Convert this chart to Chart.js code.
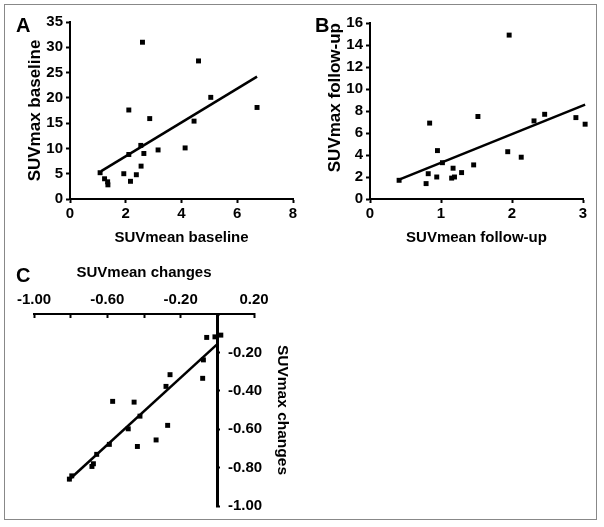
<!DOCTYPE html>
<html>
<head>
<meta charset="utf-8">
<script src="https://cdn.jsdelivr.net/npm/chart.js@4.4.1/dist/chart.umd.min.js"></script>
<style>
  body { margin: 0; background: #fff; width: 604px; height: 527px; overflow: hidden; position: relative; font-family: "Liberation Sans", Arial, sans-serif; }
  .frame { position: absolute; left: 4px; top: 4px; width: 591px; height: 514px; border: 1.5px solid #888; }
  .panel { position: absolute; }
  .letter { position: absolute; font-weight: bold; font-size: 20px; line-height: 20px; color: #000; }
</style>
</head>
<body>
<div class="frame"></div>
<canvas id="chartA" class="panel" width="300" height="252" style="left:0;top:0"></canvas>
<canvas id="chartB" class="panel" width="300" height="252" style="left:300px;top:0"></canvas>
<canvas id="chartC" class="panel" width="300" height="262" style="left:0;top:256px"></canvas>
<canvas id="chartCy" class="panel" width="100" height="262" style="left:200px;top:256px"></canvas>
<div class="letter" style="left:16px;top:15px">A</div>
<div class="letter" style="left:315px;top:15px">B</div>
<div class="letter" style="left:16px;top:265px">C</div>
<script>
// Panel A: SUVmean baseline vs SUVmax baseline
const aX = [1.08, 1.24, 1.35, 1.36, 1.93, 2.17, 2.38, 2.11, 2.11, 2.55, 2.54, 2.65, 2.60, 2.86, 3.16, 4.13, 4.45, 4.61, 5.05, 6.71];
const aY = [5.2, 4.0, 3.4, 2.8, 5.0, 3.5, 4.8, 8.8, 17.6, 6.5, 10.6, 9.0, 31.0, 15.9, 9.7, 10.1, 15.4, 27.3, 20.1, 18.1];
const aFitX = [1.12, 6.71];
const aFitY = [5.5, 24.2];

// Panel B: SUVmean follow-up vs SUVmax follow-up
const bX = [0.41, 0.79, 0.82, 0.84, 0.95, 0.94, 1.02, 1.15, 1.17, 1.19, 1.29, 1.46, 1.52, 1.96, 1.94, 2.13, 2.31, 2.46, 2.90, 3.03];
const bY = [1.7, 1.4, 2.3, 6.9, 4.4, 2.0, 3.3, 1.9, 2.8, 2.0, 2.4, 3.1, 7.5, 14.9, 4.3, 3.8, 7.1, 7.7, 7.4, 6.8];
const bFitX = [0.41, 3.03];
const bFitY = [1.76, 8.58];

// Panel C: SUVmean changes vs SUVmax changes
const cX = [-0.058, -0.013, 0.019, -0.076, -0.080, -0.258, -0.280, -0.571, -0.454, -0.422, -0.486, -0.271, -0.334, -0.436, -0.589, -0.658, -0.676, -0.684, -0.794, -0.807];
const cY = [-0.122, -0.119, -0.110, -0.239, -0.335, -0.316, -0.377, -0.455, -0.459, -0.532, -0.598, -0.580, -0.656, -0.690, -0.679, -0.731, -0.780, -0.794, -0.843, -0.860];
const cFitX = [-0.813, 0.0];
const cFitY = [-0.867, -0.157];

const tickFont = { family: 'Liberation Sans', size: 15, weight: 'bold' };
const titleFont = { family: 'Liberation Sans', size: 15, weight: 'bold' };
const yTitleFont = { family: 'Liberation Sans', size: 17, weight: 'bold' };
const cyTitleFont = { family: 'Liberation Sans', size: 15.5, weight: 'bold' };

const cTickLabel = v => (Math.abs(v) < 1e-6 ? '' : v.toFixed(2));

function pts(xs, ys) {
  return xs.map((x, i) => ({ x: x, y: ys[i] }));
}

function datasets(xs, ys, fx, fy) {
  return [
    { data: pts(xs, ys), pointStyle: 'rect', pointRadius: 3.5, backgroundColor: '#000', borderWidth: 0, clip: false },
    { data: pts(fx, fy), showLine: true, borderColor: '#000', borderWidth: 2.5, pointRadius: 0, fill: false, clip: false }
  ];
}

function topPanel(id, xs, ys, fx, fy, xMax, xStep, yMax, yStep, xTitle, yTitle, padTop, padRight, titleAlign) {
  return new Chart(document.getElementById(id), {
    type: 'scatter',
    data: { datasets: datasets(xs, ys, fx, fy) },
    options: {
      responsive: false,
      animation: false,
      events: [],
      layout: { padding: { top: padTop, left: 0, right: padRight, bottom: 0 } },
      plugins: { legend: { display: false }, tooltip: { enabled: false } },
      scales: {
        x: {
          type: 'linear', min: 0, max: xMax,
          ticks: { stepSize: xStep, font: tickFont, color: '#000', padding: 2, maxRotation: 0 },
          grid: { drawOnChartArea: false, tickLength: 4, tickWidth: 2, tickColor: '#000' },
          border: { color: '#000', width: 2 },
          title: { display: true, text: xTitle, font: titleFont, color: '#000', padding: { top: 0, bottom: 5 } },
          afterFit: s => { s.height = 53; }
        },
        y: {
          type: 'linear', min: 0, max: yMax,
          ticks: { stepSize: yStep, font: tickFont, color: '#000', padding: 3 },
          grid: { drawOnChartArea: false, tickLength: 4, tickWidth: 2, tickColor: '#000' },
          border: { color: '#000', width: 2 },
          title: { display: true, text: yTitle, align: titleAlign, font: yTitleFont, color: '#000', padding: { top: 24.8, bottom: 0 } },
          afterFit: s => { s.width = 70; }
        }
      }
    }
  });
}

topPanel('chartA', aX, aY, aFitX, aFitY, 8, 2, 35, 5, 'SUVmean baseline', 'SUVmax baseline', 22, 7, 'center');
topPanel('chartB', bX, bY, bFitX, bFitY, 3, 1, 16, 2, 'SUVmean follow-up', 'SUVmax follow-up', 23, 17, 'end');

new Chart(document.getElementById('chartC'), {
  type: 'scatter',
  data: { datasets: datasets(cX, cY, cFitX, cFitY) },
  options: {
    responsive: false,
    animation: false,
    events: [],
    layout: { padding: { top: 0, left: 34, right: 46, bottom: 12 } },
    plugins: { legend: { display: false }, tooltip: { enabled: false } },
    scales: {
      x: {
        type: 'linear', position: 'top', min: -1, max: 0.2,
        ticks: {
          stepSize: 0.2, font: tickFont, color: '#000', padding: 9.5, maxRotation: 0, autoSkip: false,
          callback: (v, i) => (i % 2 === 0 ? v.toFixed(2) : '')
        },
        grid: { drawOnChartArea: false, tickLength: -4, tickWidth: 2, tickColor: '#000' },
        border: { color: '#000', width: 2 },
        title: { display: true, text: 'SUVmean changes', font: titleFont, color: '#000', padding: { top: 8, bottom: 0 } },
        afterFit: s => { s.height = 58; }
      },
      y: {
        type: 'linear', position: { x: 0 }, min: -1, max: 0,
        ticks: { stepSize: 0.2, display: false },
        grid: { drawOnChartArea: false, tickLength: -4, tickWidth: 2, tickColor: '#000' },
        border: { color: '#000', width: 3 },
        title: { display: true, text: 'SUVmax changes', font: cyTitleFont, color: '#000', padding: { top: 0, bottom: 55.4 } },
        afterFit: s => { s.width = 0; }
      }
    }
  }
});

// tick labels of the C y-axis, right of the axis line at x = 0
new Chart(document.getElementById('chartCy'), {
  type: 'scatter',
  data: { datasets: [] },
  options: {
    responsive: false,
    animation: false,
    events: [],
    layout: { padding: { top: 58, left: 0, right: 0, bottom: 12 } },
    plugins: { legend: { display: false }, tooltip: { enabled: false } },
    scales: {
      x: { type: 'linear', display: false, min: 0, max: 1 },
      y: {
        type: 'linear', position: 'right', min: -1, max: 0,
        ticks: { stepSize: 0.2, font: tickFont, color: '#000', padding: 0, callback: cTickLabel },
        grid: { display: false, drawTicks: false },
        border: { display: false },
        afterFit: s => { s.width = 72; }
      }
    }
  }
});
</script>
</body>
</html>
